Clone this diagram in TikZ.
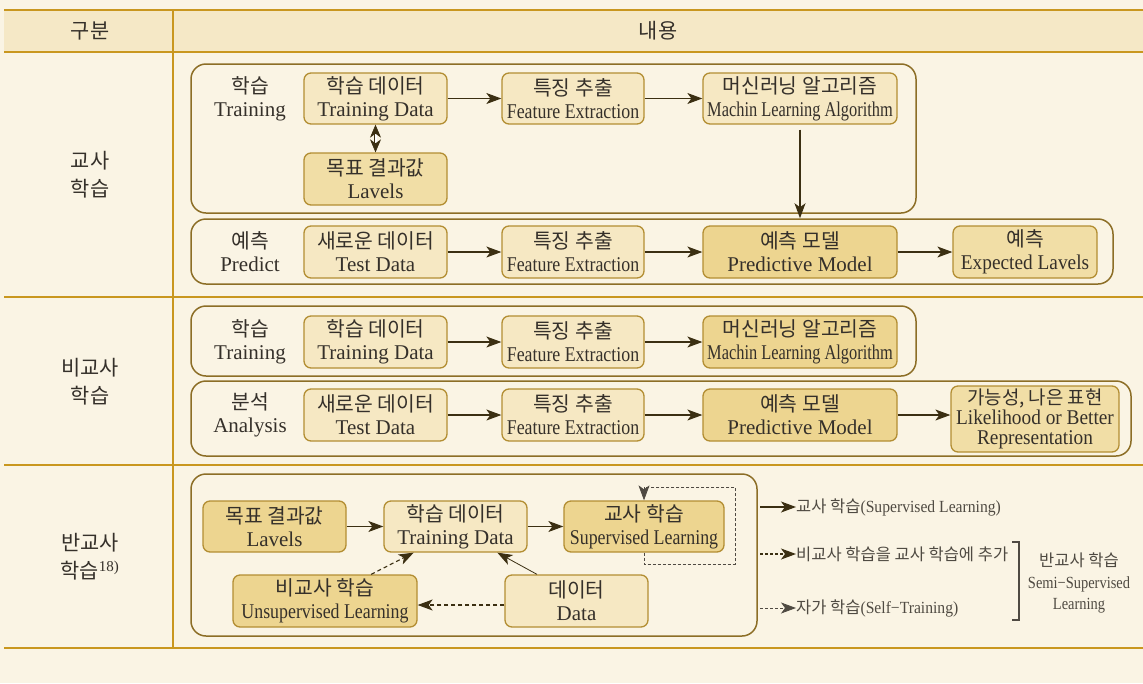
\documentclass[tikz,border=0pt]{standalone}
\usepackage{fontspec}
\setmainfont{Liberation Serif}
\newfontfamily\kr[Scale=0.97]{Noto Sans CJK KR}
\newfontfamily\lna[FakeStretch=0.92]{Liberation Serif}
\newfontfamily\lnb[FakeStretch=0.85]{Liberation Serif}
\newfontfamily\lnc[FakeStretch=0.78]{Liberation Serif}
\usetikzlibrary{arrows.meta}

\definecolor{bgc}{HTML}{FAF4E4}
\definecolor{hdc}{HTML}{F5E8C6}
\definecolor{gold}{HTML}{C9971F}
\definecolor{obox}{HTML}{8C6E26}
\definecolor{ibord}{HTML}{B38E33}
\definecolor{flight}{HTML}{F6E8C3}
\definecolor{fmid}{HTML}{F1DEA6}
\definecolor{fdark}{HTML}{EDD590}
\definecolor{ink}{HTML}{35302A}
\definecolor{arr}{HTML}{3B2F12}
\definecolor{grayink}{HTML}{4F4A42}

\newcommand{\kor}[1]{{\kr #1}}

\tikzset{
  outer/.style={draw=obox, line width=1.5pt, rounded corners=15pt, inner sep=0pt},
  ibox/.style={draw=ibord, line width=1.3pt, rounded corners=7pt, fill=flight,
    inner sep=0pt, align=center, text=ink, font=\fontsize{21}{23}\selectfont},
  midfill/.style={fill=fmid},
  darkfill/.style={fill=fdark},
  lbl/.style={align=center, text=ink, inner sep=0pt, font=\fontsize{21}{23}\selectfont},
  rowlbl/.style={align=center, text=ink, inner sep=0pt, font=\fontsize{21.5}{28}\selectfont},
  tip/.style={-{Stealth[length=15pt,width=11pt,inset=4pt]}},
  flow/.style={draw=arr, line width=1.1pt, tip},
  thinflow/.style={draw=arr, line width=0.8pt, tip},
  dashflow/.style={draw=arr, line width=1.1pt, dash pattern=on 4pt off 3pt, tip},
  dotflow/.style={draw=grayink, line width=0.8pt, dash pattern=on 3pt off 2pt, tip},
  legtxt/.style={anchor=west, inner sep=0pt, text=grayink, font=\fontsize{17}{18}\lna},
}

\begin{document}
\begin{tikzpicture}[x=1pt,y=-1pt]
% page and table frame
\fill[bgc] (0,0) rectangle (1143,683);
\path[use as bounding box] (0,0) rectangle (1143,683);
\fill[hdc] (4,10) rectangle (1143,52);
\draw[gold, line width=2pt] (4,10) -- (1143,10);
\draw[gold, line width=2pt] (4,52) -- (1143,52);
\draw[gold, line width=1.2pt] (4,297) -- (1143,297);
\draw[gold, line width=1.2pt] (4,465) -- (1143,465);
\draw[gold, line width=2pt] (4,648) -- (1143,648);
\draw[gold, line width=1.2pt] (173,10) -- (173,648);

% header and row titles
\node[rowlbl] (h1) at (90,31) {\kor{구분}};
\node[rowlbl] (h2) at (658,31) {\kor{내용}};
\node[rowlbl] (r1) at (90,175) {\kor{교사}\\\kor{학습}};
\node[rowlbl] (r2) at (90,382) {\kor{비교사}\\\kor{학습}};
\node[rowlbl] (r3) at (90,557) {\kor{반교사}\\\kor{학습}\textsuperscript{18)}};

% ---------- supervised learning ----------
\node[outer, minimum width=725, minimum height=149] (o1) at (553.5,138.5) {};
\node[outer, minimum width=922, minimum height=65] (o2) at (652,251.5) {};

\node[lbl] (l1) at (250,98.5) {\kor{학습}\\Training};
\node[ibox, minimum width=143, minimum height=51] (td1) at (375.5,98.5) {\kor{학습 데이터}\\Training Data};
\node[ibox, midfill, minimum width=143, minimum height=52] (lv1) at (375.5,179) {\kor{목표 결과값}\\Lavels};
\node[ibox, minimum width=142, minimum height=51] (fe1) at (573,98.5) {\kor{특징 추출}\\{\lnb Feature Extraction}};
\node[ibox, minimum width=194, minimum height=51] (ml1) at (800,98.5) {\kor{머신러닝 알고리즘}\\{\lnc Machin Learning Algorithm}};

\node[lbl] (l2) at (250,252) {\kor{예측}\\Predict};
\node[ibox, minimum width=143, minimum height=52] (ts1) at (375.5,252) {\kor{새로운 데이터}\\Test Data};
\node[ibox, minimum width=142, minimum height=52] (fe2) at (573,252) {\kor{특징 추출}\\{\lnb Feature Extraction}};
\node[ibox, darkfill, minimum width=194, minimum height=52] (pm1) at (800,252) {\kor{예측 모델}\\Predictive Model};
\node[ibox, midfill, minimum width=144, minimum height=52] (ex1) at (1025,252) {\kor{예측}\\{\lna Expected Lavels}};

\draw[flow] (td1) -- (fe1);
\draw[flow] (fe1) -- (ml1);
\draw[draw=arr, line width=0.7pt, double, double distance=2pt,
  {Stealth[length=13pt,width=11pt,inset=4pt]}-{Stealth[length=13pt,width=11pt,inset=4pt]}] (td1) -- (lv1);
\draw[flow, shorten <=5pt] (ml1.south) -- (ml1.south |- o2.north);
\draw[flow] (ts1) -- (fe2);
\draw[flow] (fe2) -- (pm1);
\draw[flow] (pm1) -- (ex1);

% ---------- unsupervised learning ----------
\node[outer, minimum width=725, minimum height=70] (o3) at (553.5,341) {};
\node[outer, minimum width=940, minimum height=75] (o4) at (661,418.5) {};

\node[lbl] (l3) at (250,342) {\kor{학습}\\Training};
\node[ibox, minimum width=143, minimum height=52] (td2) at (375.5,342) {\kor{학습 데이터}\\Training Data};
\node[ibox, minimum width=142, minimum height=52] (fe3) at (573,342) {\kor{특징 추출}\\{\lnb Feature Extraction}};
\node[ibox, darkfill, minimum width=194, minimum height=52] (ml2) at (800,342) {\kor{머신러닝 알고리즘}\\{\lnc Machin Learning Algorithm}};

\node[lbl] (l4) at (250,415) {\kor{분석}\\Analysis};
\node[ibox, minimum width=143, minimum height=52] (ts2) at (375.5,415) {\kor{새로운 데이터}\\Test Data};
\node[ibox, minimum width=142, minimum height=52] (fe4) at (573,415) {\kor{특징 추출}\\{\lnb Feature Extraction}};
\node[ibox, darkfill, minimum width=194, minimum height=52] (pm2) at (800,415) {\kor{예측 모델}\\Predictive Model};
\node[ibox, midfill, minimum width=168, minimum height=66, font=\fontsize{21}{20}\lna] (lk) at (1035,419)
  {{\kr\addfontfeature{Scale=0.9}가능성, 나은 표현}\\Likelihood or Better\\Representation};

\draw[flow] (td2) -- (fe3);
\draw[flow] (fe3) -- (ml2);
\draw[flow] (ts2) -- (fe4);
\draw[flow] (fe4) -- (pm2);
\draw[flow] (pm2.east) -- (pm2.east -| lk.west);

% ---------- semi-supervised learning ----------
\node[outer, minimum width=566, minimum height=162] (o5) at (474,555) {};

\node[ibox, darkfill, minimum width=143, minimum height=51] (lv3) at (274.5,526.5) {\kor{목표 결과값}\\Lavels};
\node[ibox, minimum width=143, minimum height=51] (td3) at (455.5,526.5) {\kor{학습 데이터}\\Training Data};
\node[ibox, darkfill, minimum width=160, minimum height=51] (sl) at (644,526.5) {\kor{교사 학습}\\{\lnb Supervised Learning}};
\node[ibox, darkfill, minimum width=184, minimum height=52] (ul) at (325,601) {\kor{비교사 학습}\\{\lnb Unsupervised Learning}};
\node[ibox, minimum width=143, minimum height=52] (dt) at (576.5,601) {\kor{데이터}\\Data};

\draw[flow] (lv3) -- (td3);
\draw[flow] (td3) -- (sl);
\draw[thinflow] (dt.146) -- (td3.-32);
\draw[dashflow] (ul.30) -- (td3.-148);
\draw[dashflow] ([yshift=-4pt]dt.west) -- ([yshift=-4pt]ul.east);

% self-training loop around the supervised learner
\coordinate (lpa) at (735,564);
\coordinate (lpb) at (735,487);
\draw[dotflow] (sl.south) |- (lpa) -- (lpb) -| (sl.north);

% legend
\coordinate (g1) at (760,507);
\coordinate (g2) at (760,554);
\coordinate (g3) at (760,608);
\node[legtxt] (t1) at (796,507) {\kor{교사 학습}(Supervised Learning)};
\node[legtxt] (t2) at (796,554) {\kor{비교사 학습을 교사 학습에 추가}};
\node[legtxt] (t3) at (796,608) {\kor{자가 학습}(Self−Training)};
\draw[flow] (g1) -- (t1.west);
\draw[draw=arr, line width=1.2pt, dash pattern=on 3pt off 2pt, tip] (g2) -- (t2.west);
\draw[dotflow] (g3) -- (t3.west);

\draw[draw=grayink, line width=1.1pt] (1012,542) -- (1019,542) -- (1019,620) -- (1012,620);
\node[align=center, inner sep=0pt, text=grayink, font=\fontsize{17}{21.5}\selectfont] (semi) at (1079,583)
  {\kor{반교사 학습}\\{\lnb Semi−Supervised}\\{\lnb Learning}};
\end{tikzpicture}
\end{document}
